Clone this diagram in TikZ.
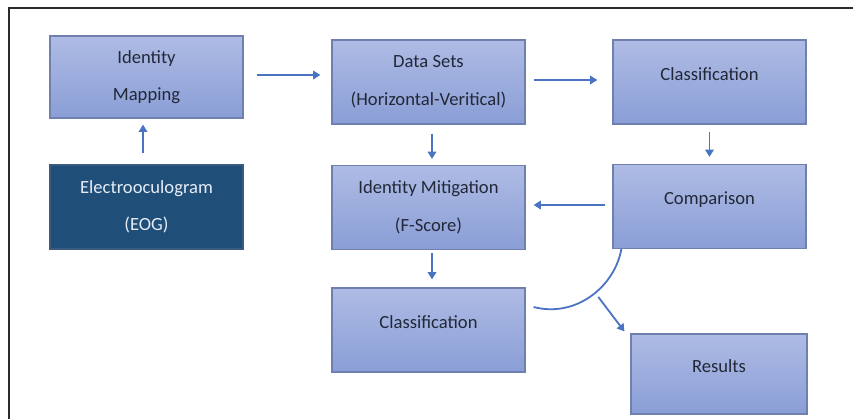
\documentclass[tikz,border=0pt]{standalone}
\usepackage{fontspec}
\setmainfont{Carlito}
\usetikzlibrary{calc,arrows.meta}

\definecolor{boxtop}{HTML}{AEBBE4}
\definecolor{boxbot}{HTML}{8A9ED6}
\definecolor{boxline}{HTML}{6F7FAF}
\definecolor{boxtext}{HTML}{232838}
\definecolor{eogfill}{HTML}{1F4E79}
\definecolor{eogline}{HTML}{3A5A80}
\definecolor{eogtext}{HTML}{E6ECF5}
\definecolor{flowblue}{HTML}{4A74C1}
\definecolor{framegray}{HTML}{2B2B2B}

\begin{document}
\begin{tikzpicture}[x=0.5pt,y=-0.5pt]
          \tikzset{
            boxbase/.style={line width=0.6pt, minimum width=96.5pt, minimum height=42pt,
              inner sep=0pt, align=center, font=\fontsize{9.3}{18.8}\selectfont},
            block/.style={boxbase, draw=boxline, top color=boxtop, bottom color=boxbot, text=boxtext},
            darkblock/.style={boxbase, draw=eogline, fill=eogfill, text=eogtext},
            oneline/.style={text height=6.5pt, text depth=8.5pt},
            flow/.style={draw=flowblue, line width=0.9pt, -{Triangle[length=3.6pt,width=4.2pt]}}
          }
          \useasboundingbox (0,0) rectangle (853,419);
          \draw[line width=1pt, framegray] (853,8) -- (9,8) -- (9,419);

          \node[block, minimum height=41pt] (map) at (146.5,77) {Identity\\Mapping};
          \node[darkblock] (eog) at (146.5,207) {Electrooculogram\\(EOG)};
          \node[block] (data) at (428.5,82) {Data Sets\\(Horizontal-Veritical)};
          \node[block] (mitig) at (428.5,207.5) {Identity Mitigation\\(F-Score)};
          \node[block, oneline] (classA) at (709.5,82) {Classification};
          \node[block, oneline] (comp) at (709.5,206.5) {Comparison};
          \node[block, oneline] (classB) at (428.5,330) {Classification};
          \node[block, oneline, minimum width=88pt, minimum height=40pt] (res) at (719,374) {Results};

          % forward arrows
          \draw[flow, shorten <=5.5pt, shorten >=3pt] ([xshift=-1.75pt]eog.north) -- ([xshift=-1.75pt]map.south);
          \draw[flow, shorten <=6.5pt, shorten >=5.5pt] ([yshift=1pt]map.east) -- ([yshift=1pt]map.east -| data.west);
          \draw[flow, shorten <=4pt, shorten >=7.5pt] ([yshift=1pt]data.east) -- ([yshift=1pt]data.east -| classA.west);
          \draw[flow, shorten <=4.5pt, shorten >=3pt] ([xshift=1.75pt]data.south) -- ([xshift=1.75pt]mitig.north);
          \draw[flow, shorten <=3.5pt, shorten >=3.5pt] (classA.south) -- (comp.south |- comp.north);
          \draw[flow, shorten <=1.5pt, shorten >=4pt] ([xshift=1.75pt]mitig.south) -- ([xshift=1.75pt]classB.north);

          % feedback arrow
          \draw[flow, shorten <=3.5pt, shorten >=4pt] ([yshift=0.75pt]comp.west) -- ([yshift=0.75pt]comp.west -| mitig.east);

          % joining curve and result
          \draw[line width=0.9pt, flowblue] ($(classB.east)+(8,-23)$) .. controls +(42,11) and +(-7,38) .. ($(comp.south west)+(9,0)$)
            coordinate[pos=0.55] (fork);
          \draw[flow, shorten <=2.5pt] (fork) -- ($(res.north west)+(-6,-2)$);
        \end{tikzpicture}
\end{document}
